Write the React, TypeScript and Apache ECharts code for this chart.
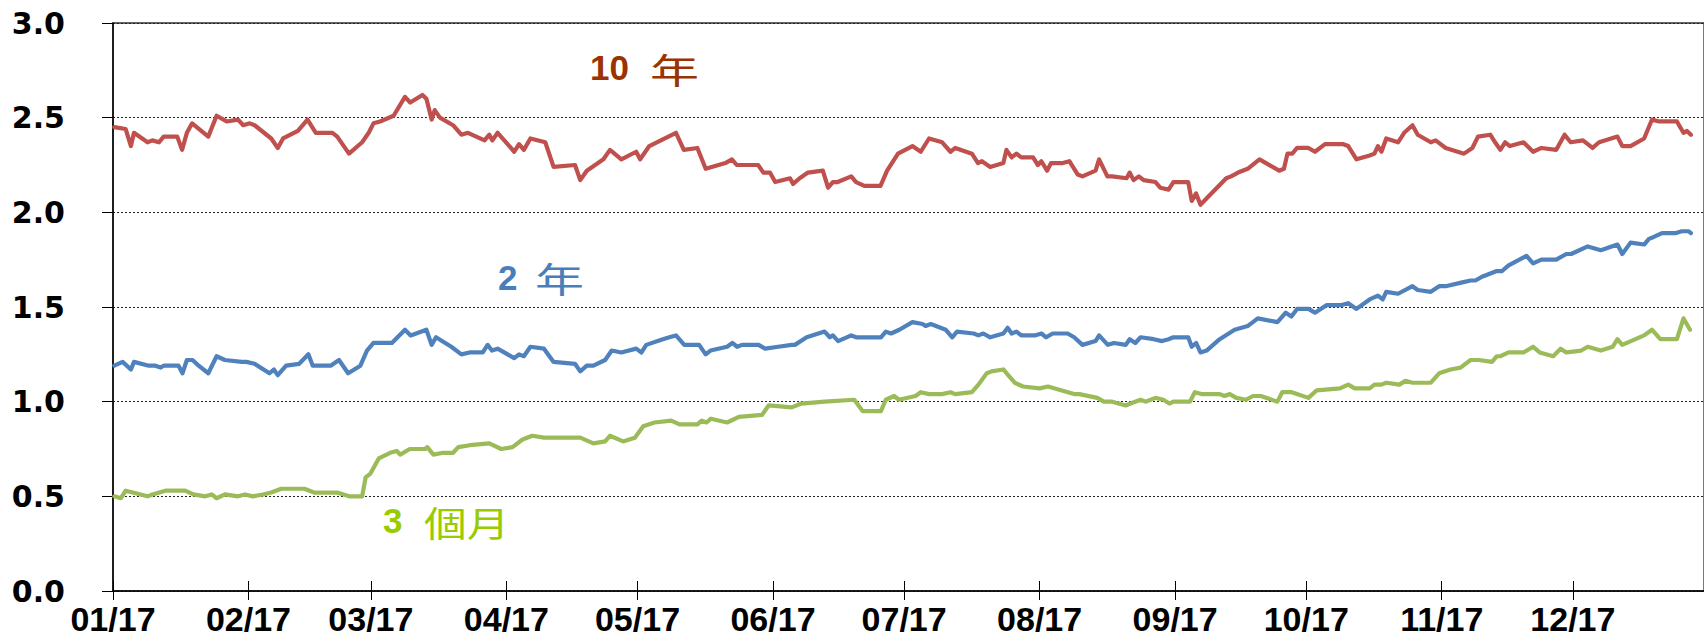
import React, { useEffect, useRef } from "react";
import * as echarts from "echarts";

// x tick labels (month starts of 2017) and their day-of-year positions
const monthLabels = ["01/17", "02/17", "03/17", "04/17", "05/17", "06/17", "07/17", "08/17", "09/17", "10/17", "11/17", "12/17"];
const monthStartDays = [0, 31, 59, 90, 120, 151, 181, 212, 243, 273, 304, 334];
// y tick step
const yTickStep = 0.5;

// [day of year (0 = 1 Jan 2017), yield %]
const tenYear: [number, number][] = [
  [0.3, 2.45], [2.9, 2.44], [4.1, 2.35], [4.8, 2.42], [7.9, 2.37], [9.0, 2.38], [10.5, 2.37], [11.6, 2.40], [14.7, 2.40], [15.8, 2.33],
  [16.9, 2.42], [18.1, 2.47], [21.8, 2.40], [23.7, 2.51], [26.0, 2.48], [28.6, 2.49], [29.8, 2.46], [31.3, 2.47], [32.4, 2.46], [36.2, 2.39],
  [37.7, 2.34], [38.9, 2.39], [42.3, 2.43], [44.5, 2.49], [46.4, 2.42], [50.2, 2.42], [51.3, 2.40], [54.0, 2.31], [57.0, 2.37], [58.5, 2.42],
  [59.6, 2.47], [61.1, 2.48], [64.2, 2.51], [66.8, 2.61], [68.0, 2.58], [70.8, 2.62], [71.7, 2.60], [72.9, 2.49], [73.6, 2.54], [74.8, 2.50],
  [77.8, 2.46], [79.7, 2.41], [81.2, 2.42], [85.0, 2.38], [86.1, 2.41], [86.8, 2.38], [88.0, 2.42], [91.8, 2.32], [92.9, 2.36], [94.0, 2.33],
  [95.5, 2.39], [98.9, 2.37], [100.8, 2.24], [105.7, 2.25], [106.9, 2.17], [108.4, 2.22], [112.2, 2.28], [113.7, 2.33], [116.3, 2.28], [119.7, 2.32],
  [120.6, 2.28], [122.7, 2.35], [128.8, 2.42], [130.6, 2.33], [133.7, 2.34], [135.6, 2.23], [140.1, 2.26], [141.6, 2.28], [142.7, 2.25], [147.6, 2.25],
  [148.8, 2.21], [150.3, 2.21], [151.5, 2.16], [154.9, 2.18], [155.6, 2.15], [157.1, 2.18], [159.0, 2.21], [162.4, 2.22], [163.6, 2.13], [164.7, 2.16],
  [165.8, 2.16], [168.9, 2.19], [170.0, 2.16], [171.9, 2.14], [175.6, 2.14], [177.1, 2.22], [179.6, 2.31], [182.9, 2.35], [184.8, 2.32], [186.7, 2.39],
  [189.7, 2.37], [191.6, 2.32], [192.7, 2.34], [196.5, 2.31], [197.9, 2.26], [198.8, 2.27], [200.7, 2.24], [203.7, 2.26], [204.4, 2.33], [205.6, 2.29],
  [206.7, 2.31], [207.8, 2.29], [210.5, 2.29], [211.6, 2.25], [212.4, 2.27], [213.7, 2.22], [214.6, 2.26], [217.3, 2.26], [218.8, 2.27], [220.7, 2.20],
  [221.8, 2.19], [224.8, 2.22], [225.6, 2.28], [227.5, 2.19], [228.6, 2.19], [231.9, 2.18], [232.6, 2.21], [233.5, 2.17], [234.7, 2.19], [235.8, 2.17],
  [238.5, 2.16], [239.6, 2.13], [241.5, 2.12], [242.6, 2.16], [246.0, 2.16], [246.8, 2.06], [247.8, 2.10], [248.8, 2.04], [250.9, 2.09], [254.7, 2.18],
  [255.8, 2.19], [257.4, 2.21], [259.6, 2.23], [262.3, 2.28], [263.8, 2.26], [266.8, 2.22], [267.9, 2.23], [268.7, 2.31], [269.8, 2.31], [270.9, 2.34],
  [273.5, 2.34], [275.0, 2.32], [277.3, 2.36], [281.5, 2.36], [282.6, 2.35], [284.5, 2.28], [287.5, 2.30], [288.6, 2.31], [289.4, 2.35], [290.2, 2.32],
  [291.3, 2.39], [294.0, 2.37], [295.4, 2.42], [297.3, 2.46], [298.5, 2.41], [301.5, 2.37], [302.6, 2.38], [304.9, 2.34], [309.1, 2.31], [311.0, 2.34],
  [312.3, 2.40], [315.1, 2.41], [316.2, 2.37], [317.4, 2.33], [318.5, 2.37], [319.6, 2.35], [322.7, 2.37], [324.9, 2.32], [326.8, 2.34], [330.2, 2.33],
  [332.1, 2.41], [333.5, 2.37], [336.3, 2.38], [338.5, 2.34], [340.0, 2.37], [344.2, 2.40], [345.3, 2.35], [347.2, 2.35], [350.3, 2.39], [352.1, 2.49],
  [353.7, 2.48], [357.8, 2.48], [359.3, 2.42], [360.1, 2.43], [361.0, 2.41],
];

const twoYear: [number, number][] = [
  [0.3, 1.19], [2.2, 1.21], [4.1, 1.17], [4.8, 1.21], [8.2, 1.19], [9.7, 1.19], [10.9, 1.18], [11.6, 1.19], [15.0, 1.19], [15.9, 1.15],
  [16.9, 1.22], [18.2, 1.22], [19.6, 1.19], [21.8, 1.15], [23.7, 1.24], [25.6, 1.22], [29.4, 1.21], [30.5, 1.21], [32.4, 1.20], [35.8, 1.15],
  [36.8, 1.17], [37.7, 1.14], [39.6, 1.19], [42.6, 1.20], [44.7, 1.25], [45.7, 1.19], [49.8, 1.19], [51.7, 1.22], [53.8, 1.15], [56.6, 1.19],
  [58.1, 1.27], [59.6, 1.31], [63.8, 1.31], [66.8, 1.38], [68.1, 1.35], [71.7, 1.38], [72.9, 1.30], [73.9, 1.34], [77.4, 1.29], [79.7, 1.25],
  [81.6, 1.26], [84.6, 1.26], [85.7, 1.30], [86.7, 1.27], [88.0, 1.28], [89.5, 1.26], [91.8, 1.23], [92.9, 1.25], [94.0, 1.24], [95.5, 1.29],
  [98.6, 1.28], [100.8, 1.21], [105.7, 1.20], [106.9, 1.16], [108.4, 1.19], [109.9, 1.19], [112.6, 1.22], [114.1, 1.27], [116.3, 1.26], [119.7, 1.28],
  [120.9, 1.26], [122.0, 1.30], [125.8, 1.33], [127.3, 1.34], [128.8, 1.35], [130.7, 1.30], [134.1, 1.30], [135.6, 1.25], [136.7, 1.27], [140.5, 1.29],
  [141.7, 1.31], [142.8, 1.29], [143.9, 1.30], [147.7, 1.30], [149.2, 1.28], [152.2, 1.29], [155.3, 1.30], [156.0, 1.30], [158.7, 1.34], [162.8, 1.37],
  [164.0, 1.34], [164.7, 1.35], [165.9, 1.32], [168.9, 1.35], [170.0, 1.34], [171.9, 1.34], [175.7, 1.34], [176.8, 1.37], [178.0, 1.36], [179.9, 1.38],
  [182.9, 1.42], [185.2, 1.41], [185.9, 1.40], [187.1, 1.41], [190.5, 1.38], [192.0, 1.34], [193.1, 1.37], [196.9, 1.36], [198.0, 1.35], [199.1, 1.36],
  [200.7, 1.34], [203.7, 1.36], [204.7, 1.39], [205.6, 1.36], [206.7, 1.37], [207.8, 1.35], [210.9, 1.35], [212.4, 1.36], [213.5, 1.34], [215.0, 1.36],
  [218.4, 1.36], [219.9, 1.34], [221.8, 1.30], [224.8, 1.32], [225.6, 1.35], [227.6, 1.30], [229.0, 1.31], [231.7, 1.30], [232.6, 1.33], [233.9, 1.31],
  [235.1, 1.34], [238.1, 1.33], [240.0, 1.32], [241.5, 1.33], [242.6, 1.34], [246.0, 1.34], [246.8, 1.29], [247.8, 1.31], [248.8, 1.26], [250.2, 1.27],
  [253.2, 1.33], [256.6, 1.38], [259.6, 1.40], [260.8, 1.42], [261.9, 1.44], [266.4, 1.42], [268.3, 1.47], [269.6, 1.45], [270.9, 1.49], [273.5, 1.49],
  [275.0, 1.47], [277.7, 1.51], [281.1, 1.51], [282.6, 1.52], [284.5, 1.49], [287.5, 1.54], [289.4, 1.56], [290.5, 1.54], [291.3, 1.58], [294.0, 1.57],
  [297.3, 1.61], [298.5, 1.59], [301.5, 1.58], [303.4, 1.61], [304.9, 1.61], [308.7, 1.63], [310.6, 1.64], [311.7, 1.64], [313.2, 1.66], [316.6, 1.69],
  [317.8, 1.69], [319.3, 1.72], [323.4, 1.77], [324.9, 1.73], [326.8, 1.75], [330.2, 1.75], [332.5, 1.78], [333.6, 1.78], [337.4, 1.82], [340.4, 1.80],
  [344.2, 1.83], [345.3, 1.78], [347.2, 1.84], [350.3, 1.83], [351.4, 1.86], [352.5, 1.87], [354.4, 1.89], [357.4, 1.89], [358.9, 1.90], [360.5, 1.90],
  [361.0, 1.89],
];

const threeMonth: [number, number][] = [
  [0.3, 0.50], [1.8, 0.49], [2.9, 0.53], [4.5, 0.52], [7.9, 0.50], [9.0, 0.51], [12.0, 0.53], [16.5, 0.53], [18.4, 0.51], [21.1, 0.50],
  [22.6, 0.51], [23.7, 0.49], [25.6, 0.51], [28.6, 0.50], [30.2, 0.51], [32.0, 0.50], [34.3, 0.51], [36.2, 0.52], [38.5, 0.54], [43.8, 0.54],
  [46.0, 0.52], [51.3, 0.52], [54.0, 0.50], [57.0, 0.50], [57.8, 0.60], [58.9, 0.62], [60.8, 0.70], [63.4, 0.73], [64.9, 0.74], [65.7, 0.72],
  [67.9, 0.75], [71.4, 0.75], [71.9, 0.76], [73.3, 0.72], [75.5, 0.73], [77.8, 0.73], [79.0, 0.76], [81.6, 0.77], [86.1, 0.78], [88.8, 0.75],
  [91.4, 0.76], [93.7, 0.80], [95.9, 0.82], [98.6, 0.81], [100.1, 0.81], [101.2, 0.81], [106.9, 0.81], [109.9, 0.78], [112.6, 0.79], [113.7, 0.82],
  [116.7, 0.79], [119.4, 0.81], [121.3, 0.87], [123.9, 0.89], [127.7, 0.90], [129.6, 0.88], [133.7, 0.88], [134.7, 0.90], [135.8, 0.89], [136.8, 0.91],
  [140.5, 0.89], [143.2, 0.92], [148.5, 0.93], [150.0, 0.98], [155.3, 0.97], [157.5, 0.99], [162.8, 1.00], [169.6, 1.01], [171.5, 0.95], [175.7, 0.95],
  [176.8, 1.01], [178.7, 1.03], [179.8, 1.01], [183.6, 1.03], [184.8, 1.05], [186.7, 1.04], [189.7, 1.04], [191.6, 1.05], [192.7, 1.04], [196.5, 1.05],
  [198.0, 1.09], [199.9, 1.15], [201.0, 1.16], [203.7, 1.17], [204.8, 1.14], [206.3, 1.10], [208.2, 1.08], [212.0, 1.07], [213.9, 1.08], [216.9, 1.06],
  [219.9, 1.04], [221.1, 1.04], [225.2, 1.02], [226.7, 1.00], [228.6, 1.00], [231.7, 0.98], [232.8, 0.99], [235.1, 1.01], [236.2, 1.00], [238.5, 1.02],
  [240.3, 1.01], [241.7, 0.99], [242.6, 1.00], [246.4, 1.00], [247.5, 1.05], [249.0, 1.04], [253.2, 1.04], [254.3, 1.03], [255.5, 1.04], [257.0, 1.02],
  [259.2, 1.01], [260.8, 1.03], [262.6, 1.03], [266.4, 1.00], [267.5, 1.05], [269.7, 1.05], [273.5, 1.02], [275.4, 1.06], [280.7, 1.07], [282.6, 1.09],
  [284.1, 1.07], [287.5, 1.07], [288.6, 1.09], [290.2, 1.09], [291.3, 1.10], [294.3, 1.09], [295.7, 1.11], [297.3, 1.10], [301.5, 1.10], [303.4, 1.15],
  [306.0, 1.17], [308.3, 1.18], [310.6, 1.22], [312.5, 1.22], [315.5, 1.21], [316.6, 1.24], [317.4, 1.24], [319.3, 1.26], [322.7, 1.26], [324.9, 1.29],
  [326.4, 1.26], [329.5, 1.24], [331.2, 1.28], [332.5, 1.26], [335.9, 1.27], [337.4, 1.29], [340.4, 1.27], [343.1, 1.29], [344.2, 1.33], [345.3, 1.30],
  [350.3, 1.35], [352.1, 1.38], [354.0, 1.33], [357.8, 1.33], [359.3, 1.44], [360.8, 1.38],
];

export default function App() {
  const ref = useRef<HTMLDivElement>(null);
  useEffect(() => {
    if (!ref.current) return;
    const chart = echarts.init(ref.current, null, { renderer: "svg" });
    const xLabelFmt = (v: number) => {
      const i = monthStartDays.indexOf(Math.round(v));
      return i >= 0 ? monthLabels[i] : "";
    };
    const lineSeries = (name: string, data: [number, number][], color: string) => ({
      name,
      type: "line",
      xAxisIndex: 0,
      data,
      showSymbol: false,
      symbol: "none",
      smooth: false,
      lineStyle: { color, width: 4.2, join: "round", cap: "round" },
      itemStyle: { color },
      emphasis: { disabled: true },
      z: 3,
    });
    const option: any = {
      animation: false,
      backgroundColor: "#ffffff",
      grid: { left: 113, right: -13, top: 23, bottom: 50, show: true, borderColor: "#333", borderWidth: 1.3, backgroundColor: "transparent" },
      xAxis: [
        {
          type: "value",
          position: "bottom",
          min: 0,
          max: 364,
          axisLine: { show: true, lineStyle: { color: "#000", width: 1.5 } },
          axisTick: { show: true, inside: true, length: 10, customValues: monthStartDays, lineStyle: { color: "#000", width: 1 } },
          axisLabel: {
            show: true,
            customValues: monthStartDays,
            formatter: xLabelFmt,
            fontFamily: "Liberation Sans",
            fontWeight: "bold",
            fontSize: 34,
            lineHeight: 30,
            color: "#000",
            margin: 13,
            showMinLabel: true,
            hideOverlap: false,
          },
          splitLine: { show: false },
        },
        {
          type: "value",
          position: "bottom",
          offset: 0,
          min: 0,
          max: 364,
          axisLine: { show: false },
          axisTick: { show: true, inside: false, length: 9, customValues: monthStartDays, lineStyle: { color: "#000", width: 1 } },
          axisLabel: { show: false },
          splitLine: { show: false },
        },
      ],
      yAxis: {
        type: "value",
        min: 0,
        max: 3,
        interval: yTickStep,
        axisLine: { show: true, lineStyle: { color: "#000", width: 1.5 } },
        axisTick: { show: true, inside: false, length: 11, lineStyle: { color: "#000", width: 1 } },
        axisLabel: {
          formatter: (v: number) => v.toFixed(1),
          fontFamily: "DejaVu Sans",
          fontWeight: "bold",
          fontSize: 30,
          color: "#000",
          margin: 48,
        },
        splitLine: { show: true, lineStyle: { type: [2, 2], color: "#222", width: 1 } },
      },
      series: [
        lineSeries("10 年", tenYear, "#C0504D"),
        lineSeries("2 年", twoYear, "#4F81BD"),
        lineSeries("3 個月", threeMonth, "#9BBB59"),
      ],
      graphic: [
        { type: "text", x: 590, y: 67, z: 10, style: { text: "10", font: 'bold 35px "Liberation Sans"', fill: "#993300", textVerticalAlign: "middle", textAlign: "left" } },
        { type: "text", x: 650, y: 69, scaleX: 1.4, z: 10, style: { text: "年", font: '35px "Noto Sans CJK TC"', fill: "#993300", textVerticalAlign: "middle", textAlign: "left" } },
        { type: "text", x: 498, y: 277, z: 10, style: { text: "2", font: 'bold 35px "Liberation Sans"', fill: "#4A7EBB", textVerticalAlign: "middle", textAlign: "left" } },
        { type: "text", x: 535, y: 278, scaleX: 1.4, z: 10, style: { text: "年", font: '35px "Noto Sans CJK TC"', fill: "#4A7EBB", textVerticalAlign: "middle", textAlign: "left" } },
        { type: "text", x: 383, y: 520, z: 10, style: { text: "3", font: 'bold 35px "Liberation Sans"', fill: "#99CC00", textVerticalAlign: "middle", textAlign: "left" } },
        { type: "text", x: 424, y: 522, scaleX: 1.22, z: 10, style: { text: "個月", font: '35px "Noto Sans CJK TC"', fill: "#99CC00", textVerticalAlign: "middle", textAlign: "left" } },
      ],
    };
    chart.setOption(option);
    return () => chart.dispose();
  }, []);
  return (
    <div
      ref={ref}
      style={{ position: "fixed", left: 0, top: 0, width: 1704, height: 641, background: "#fff" }}
    />
  );
}
